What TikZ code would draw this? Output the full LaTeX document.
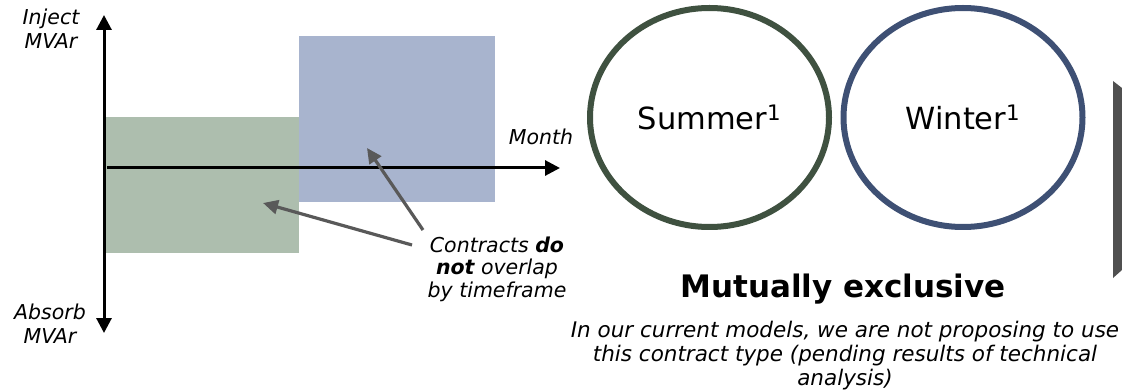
\documentclass[tikz,border=0pt]{standalone}
\usepackage{fontspec}
\setmainfont{DejaVu Sans}
\usetikzlibrary{arrows.meta,shapes.geometric}
\definecolor{gfill}{RGB}{173,190,174}
\definecolor{bfill}{RGB}{168,180,206}
\definecolor{gline}{RGB}{63,81,64}
\definecolor{bline}{RGB}{62,80,116}
\definecolor{annot}{RGB}{89,89,89}
\definecolor{barc}{RGB}{80,80,80}
\begin{document}
\begin{tikzpicture}[x=1pt,y=-1pt,
  block/.style={inner sep=0pt, outer sep=0pt, anchor=north west},
  axisline/.style={line width=3pt, black},
  ann/.style={line width=3.2pt, annot, -{Triangle[length=15pt,width=14pt]}},
  lbl/.style={font=\fontsize{20.5}{24}\selectfont\itshape, align=center, inner sep=0pt, anchor=base},
  season/.style={ellipse, line width=6pt, minimum width=239pt, minimum height=219pt, inner sep=0pt, font=\fontsize{30.5}{34}\selectfont}
]
\useasboundingbox (0,0) rectangle (1122,390);
% contract blocks
\node[block, fill=gfill, minimum width=195pt, minimum height=136pt] (sumblk) at (104,117) {};
\node[block, fill=bfill, minimum width=196pt, minimum height=166pt] (winblk) at (299,36) {};
% axes
\coordinate (ytop) at (104,15);
\coordinate (ybot) at (104,333);
\coordinate (xl) at (107,168);
\coordinate (xr) at (560,168);
\draw[axisline, {Triangle[length=15pt,width=15pt]}-{Triangle[length=15pt,width=15pt]}] (ybot) -- (ytop);
\draw[axisline, -{Triangle[length=15pt,width=15pt]}] (xl) -- (xr);
% axis labels (base = last line baseline)
\node[lbl] (inj) at (51,49) {Inject\\MVAr};
\node[lbl] (abs) at (50,343) {Absorb\\MVAr};
\node[lbl] (month) at (541,145) {Month};
% annotation
\node[lbl, font=\fontsize{20.5}{23}\selectfont\itshape] (note) at (497,298) {Contracts \textbf{do}\\\textbf{not} overlap\\by timeframe};
\coordinate (ta) at (412,245);
\coordinate (tb) at (423,230);
\coordinate (ga) at (263,203);
\coordinate (gb) at (367,148);
\draw[ann] (ta) -- (ga);
\draw[ann] (tb) -- (gb);
% seasons
\node[season, draw=gline] (summer) at (709.5,117.5) {Summer\textsuperscript{1}};
\node[season, draw=bline] (winter) at (963,117.5) {Winter\textsuperscript{1}};
\node[font=\fontsize{31}{36}\selectfont\bfseries, anchor=base, inner sep=0pt] (mx) at (843,297) {Mutually exclusive};
\node[font=\fontsize{21.5}{24}\selectfont\itshape, align=center, anchor=base, inner sep=0pt] (fn) at (845,385) {In our current models, we are not proposing to use\\this contract type (pending results of technical\\analysis)};
% side bar
\fill[barc] (1113,81) -- (1122,88) -- (1122,270) -- (1113,278) -- cycle;
\end{tikzpicture}
\end{document}
